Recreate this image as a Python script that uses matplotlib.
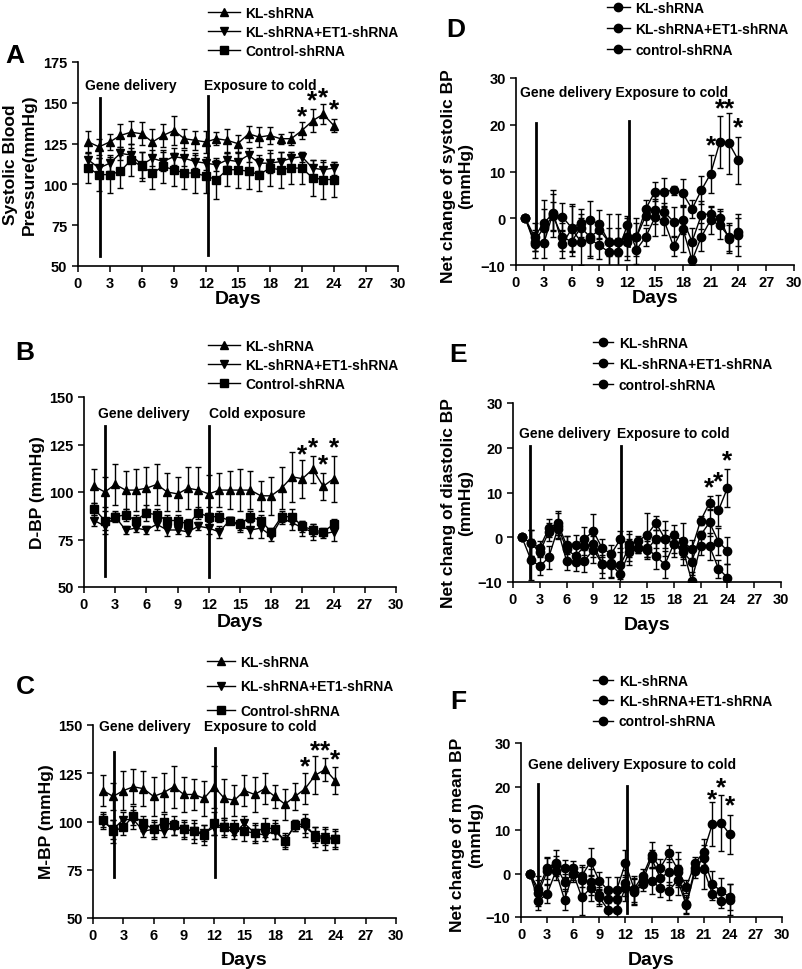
import matplotlib
matplotlib.use("Agg")
import matplotlib.pyplot as plt
from matplotlib.lines import Line2D

plt.rcParams['font.family'] = ['Liberation Sans', 'DejaVu Sans']
plt.rcParams['font.weight'] = 'bold'
plt.rcParams['axes.labelweight'] = 'bold'

days = list(range(1, 25))
ticks_x = [0, 3, 6, 9, 12, 15, 18, 21, 24, 27, 30]

labels_abc = ["KL-shRNA", "KL-shRNA+ET1-shRNA", "Control-shRNA"]
labels_def = ["KL-shRNA", "KL-shRNA+ET1-shRNA", "control-shRNA"]

# ---- A: systolic BP
A_kl = [126, 123, 126, 130, 132, 131, 126, 130, 133, 128, 127, 126, 128, 127, 125, 131, 129, 130, 128, 128, 133, 139, 143, 136]
A_kl_err = [7, 5, 5, 7, 7, 7, 8, 7, 9, 6, 6, 7, 4, 7, 5, 5, 6, 5, 3, 4, 5, 7, 6, 4]
A_et = [115, 110, 113, 119, 118, 112, 116, 114, 117, 116, 114, 113, 112, 115, 114, 118, 113, 113, 114, 116, 117, 110, 109, 110]
A_et_err = [5, 6, 5, 4, 4, 8, 5, 6, 5, 5, 4, 4, 4, 4, 5, 4, 5, 6, 6, 4, 3, 5, 5, 4]
A_ct = [110, 106, 106, 108, 115, 111, 107, 111, 109, 107, 107, 105, 103, 109, 109, 108, 106, 110, 109, 110, 110, 104, 103, 103]
A_ct_err = [9, 10, 11, 10, 10, 9, 10, 10, 10, 10, 12, 10, 12, 10, 11, 11, 10, 11, 11, 10, 10, 11, 12, 11]

# ---- B: diastolic BP
B_kl = [103, 100, 104, 101, 101, 102, 104, 100, 99, 102, 101, 99, 101, 101, 101, 101, 98, 98, 102, 108, 107, 112, 103, 107]
B_kl_err = [9, 8, 11, 10, 11, 11, 11, 10, 9, 11, 12, 10, 9, 10, 11, 10, 8, 10, 11, 13, 10, 7, 7, 12]
B_et = [85, 82, 87, 80, 81, 80, 83, 80, 80, 79, 82, 81, 79, 85, 82, 80, 81, 77, 86, 84, 81, 79, 78, 79]
B_et_err = [3, 4, 2, 2, 2, 2, 3, 3, 2, 2, 2, 3, 3, 2, 3, 4, 5, 3, 3, 4, 4, 4, 2, 5]
B_ct = [91, 85, 87, 88, 85, 89, 88, 85, 85, 83, 89, 87, 87, 85, 83, 87, 85, 79, 87, 87, 82, 80, 79, 83]
B_ct_err = [3, 5, 3, 3, 3, 4, 3, 3, 3, 3, 3, 5, 3, 2, 3, 3, 3, 2, 3, 4, 3, 3, 2, 3]

# ---- C: mean BP
C_kl = [116, 113, 116, 118, 117, 113, 115, 118, 114, 114, 112, 118, 112, 111, 116, 114, 117, 113, 109, 113, 117, 124, 127, 121]
C_kl_err = [8, 7, 10, 9, 9, 10, 10, 11, 9, 8, 9, 11, 10, 8, 8, 9, 8, 6, 8, 7, 8, 10, 6, 7]
C_et = [100, 96, 101, 101, 95, 96, 95, 97, 96, 95, 94, 97, 97, 94, 99, 94, 93, 95, 90, 98, 97, 93, 92, 91]
C_et_err = [4, 5, 4, 5, 3, 4, 3, 4, 4, 4, 4, 4, 4, 3, 4, 4, 3, 4, 3, 3, 5, 4, 4, 4]
C_ct = [101, 95, 97, 103, 99, 96, 100, 98, 96, 95, 93, 99, 97, 97, 95, 94, 97, 96, 90, 98, 99, 92, 91, 91]
C_ct_err = [4, 6, 4, 5, 4, 5, 4, 5, 5, 6, 5, 6, 5, 4, 5, 5, 5, 5, 4, 3, 5, 5, 6, 5]

# ---- D: net change systolic
D_kl = [0, -4, -1, 1, 0.3, -2, -1, -0.3, -1.3, -5, -5, -4, -4, 2, 5.7, 5.7, 6, 5.3, 2, 6, 9.5, 16.3, 16, 12.4]
D_kl_err = [0, 3, 5, 5, 3, 5, 3, 4, 3, 6, 6, 4, 4, 2, 2, 3, 1, 3, 2, 3, 4, 5.5, 6.5, 5]
D_et = [0, -5, -2, 0.5, -4, -5, -2, -4, -2.5, -5, -5, -5, -4, 0.5, 1.7, 1.3, -0.7, -0.3, -5, 0.7, 1, 0, -4.5, -3]
D_et_err = [0, 2, 4, 3, 3, 3, 3, 4, 2, 3, 3, 4, 3, 2, 3, 2, 3, 3, 3, 3, 1.5, 2, 3, 3]
D_ct = [0, -5.5, -5.4, 1.2, -5.5, -2.3, -5, -4.5, -5.8, -7.2, -7.2, -1.5, -6.7, -4, 0.2, -0.6, -6, -2.2, -9, -4, -0.4, -1.5, -4, -3.6]
D_ct_err = [0, 3, 3, 4, 3, 5, 5, 4, 3, 3, 3, 2, 3, 2, 4, 3, 2, 5, 1, 3, 3, 3, 3, 4.5]

# ---- E: net change diastolic
E_kl = [0, -1.3, -2.3, 2, 3.2, -1.8, -1.8, -0.3, 1.3, -2.5, -3.7, -0.5, -1.5, -0.8, 0.5, 3.2, -0.3, 0.5, -0.8, -2.7, 3.7, 7.7, 6, 11]
E_kl_err = [0, 3, 1.5, 2, 2.7, 2, 2.2, 2.5, 4, 2, 2, 2, 3, 1, 5, 1.5, 4, 2.2, 4, 2, 1, 1.5, 3.5, 4.2]
E_et = [0, -1.3, -3.3, 1.2, 2.5, -2.7, -4.2, -2, -1.5, -6, -5.8, -6.3, -2.2, -2.5, -2.8, -0.3, -0.3, -1.5, -3.2, -5.5, 0.5, 3.3, -1, -3]
E_et_err = [0, 3, 1, 2, 3, 3, 2, 2, 3, 2, 3, 3, 3, 1, 2, 2, 2, 3, 3, 3, 1, 3, 3, 3]
E_ct = [0, -5, -6.5, -4.5, 1.8, -5.3, -5.5, -5.2, -2.8, -6, -6.2, -8.2, -3.3, -2.5, -2.5, -4.2, -6.1, -1.5, -2.5, -9.7, -2, -2, -7, -9]
E_ct_err = [0, 4.5, 2, 2.5, 2, 2, 2, 2.5, 3, 3, 3, 2, 3, 1, 2, 3, 3, 2, 2, 2, 2, 3, 2, 3]

# ---- F: net change mean
F_kl = [0, -3.5, 1.2, 2.5, 1.2, 1.3, -0.5, 2.7, -1.7, -3.8, -3.7, 2.3, -3.5, -0.5, 4.2, 1.3, 4.6, 1, -3, 2.3, 5, 11.4, 11.6, 9]
F_kl_err = [0, 3, 2.5, 3, 2, 1.5, 2.5, 3.2, 2, 3, 3, 3, 3, 1.5, 3, 2, 2, 4, 1.5, 1.5, 3, 5, 6.5, 4.5]
F_et = [0, -4.5, 0.5, 2, -2, 0, -1.5, -2, -5, -5.8, -5.8, -2.2, -4, -1.5, 3.5, -1, 0.3, 0.3, -7, 1.3, 3.5, -2.5, -4, -5.5]
F_et_err = [0, 3, 3, 2, 2, 1.5, 3, 3, 2, 2, 2, 3, 3, 1.5, 2, 2, 3, 3, 2, 1.5, 3, 3, 3, 3]
F_ct = [0, -6.3, -4.7, 0.5, -6, 0, -5.5, -3.3, -5.5, -8.3, -8.3, -3.3, -4.3, -2.5, -1.7, -3.3, -4, -1.5, -7.3, 0.5, 1, -4.7, -6.4, -6]
F_ct_err = [0, 2, 2, 2, 2.5, 2, 4, 3, 2, 2, 2, 3, 3, 1.5, 3, 2, 2, 3.5, 2, 1.5, 4.5, 1.5, 1.5, 3.5]

# event lines (day, y bottom, y top), notes and significance stars
A_vlines = [(2.1, 56, 153), (12.25, 57, 154)]
B_vlines = [(2.0, 56, 135), (12.05, 55.5, 135)]
C_vlines = [(2.1, 71, 136), (12.1, 71, 138)]
D_vlines = [(2.15, -4, 20.4), (12.15, -6, 20.7)]
E_vlines = [(1.95, -9, 20.3), (12.07, -6.4, 20.3)]
F_vlines = [(1.95, -6.5, 20.6), (12.15, -9, 20.2)]

A_notes = [(0.7, 160.7, "Gene delivery"), (11.8, 160.7, "Exposure to cold")]
B_notes = [(1.35, 141.8, "Gene delivery"), (12.05, 141.8, "Cold exposure")]
C_notes = [(0.6, 149.3, "Gene delivery"), (11.0, 149.3, "Exposure to cold")]
D_notes = [(0.45, 26.9, "Gene delivery Exposure to cold")]
E_notes = [(0.67, 23.2, "Gene delivery"), (11.6, 23.2, "Exposure to cold")]
F_notes = [(0.85, 25.2, "Gene delivery Exposure to cold")]

A_stars = [(21, 141.5), (22, 151.5), (23, 153.5), (24, 146)]
B_stars = [(21, 120), (22, 123.5), (23, 114.5), (24, 123.5)]
C_stars = [(21, 128.5), (22, 137), (23, 137), (24, 132.3)]
D_stars = [(21, 15.5), (22, 23.6), (23, 23.6), (24, 19.4)]
E_stars = [(22, 11.2), (23, 12.6), (24, 17.1)]
F_stars = [(22, 17.1), (23, 19.8), (24, 15.6)]

fig = plt.figure(figsize=(8.03, 9.70), dpi=100)


def panel(rect, series, markers, labels, ylim, yticks, ylabel, letter, letter_xy,
          vlines, notes, stars, leg_xy, leg_space, handle_len, xlabelpad, ylabel_xy):
    ax = fig.add_axes(rect)
    handles = []
    for (y, e), m, lab in zip(series, markers, labels):
        ax.errorbar(days, y, yerr=e, color='black', marker=m, ms=6, lw=1.0,
                    elinewidth=1.0, capsize=2.5, capthick=1.0)
        handles.append(Line2D([], [], color='black', marker=m, ms=6, lw=1.0, label=lab))
    for x, y0, y1 in vlines:
        ax.plot([x, x], [y0, y1], color='black', lw=2.0)
    for x, y, s in notes:
        ax.text(x, y, s, fontsize=10, ha='left', va='center')
    for x, y in stars:
        ax.text(x, y, '*', fontsize=19, ha='center', va='center')
    ax.set_xlim(0, 30)
    ax.set_ylim(*ylim)
    ax.set_xticks(ticks_x)
    ax.set_yticks(yticks)
    ax.tick_params(direction='out', length=4, width=1.1, labelsize=10.5)
    for s in ['top', 'right']:
        ax.spines[s].set_visible(False)
    for s in ['left', 'bottom']:
        ax.spines[s].set_linewidth(1.2)
    ax.set_xlabel('Days', fontsize=14, labelpad=xlabelpad)
    fig.text(ylabel_xy[0] / 803, 1 - ylabel_xy[1] / 970, ylabel, rotation=90,
             ha='center', va='center', fontsize=12.5, linespacing=1.25,
             multialignment='center')
    fig.text(letter_xy[0] / 803, 1 - letter_xy[1] / 970, letter, fontsize=19,
             ha='center', va='center')
    ax.legend(handles=handles, loc='upper left',
              bbox_to_anchor=(leg_xy[0] / 803, 1 - leg_xy[1] / 970),
              bbox_transform=fig.transFigure, frameon=False, borderpad=0,
              fontsize=10, labelspacing=leg_space, handlelength=handle_len,
              handletextpad=0.4, borderaxespad=0)
    return ax


def fr(l, r, t, b):
    return [l / 803, 1 - b / 970, (r - l) / 803, (b - t) / 970]


panel(fr(77.7, 398, 63, 267), [(A_kl, A_kl_err), (A_et, A_et_err), (A_ct, A_ct_err)],
      ['^', 'v', 's'], labels_abc, (50, 175), [50, 75, 100, 125, 150, 175],
      "Systolic Blood\nPressure(mmHg)", "A", (15, 56), A_vlines, A_notes, A_stars,
      (208, 7), 0.35, 2.3, 0, (20, 165))

panel(fr(84, 396, 398, 588), [(B_kl, B_kl_err), (B_et, B_et_err), (B_ct, B_ct_err)],
      ['^', 'v', 's'], labels_abc, (50, 150), [50, 75, 100, 125, 150],
      "D-BP (mmHg)", "B", (25, 353), B_vlines, B_notes, B_stars,
      (208, 340), 0.35, 2.3, 1, (38, 493))

panel(fr(93, 396, 726, 919), [(C_kl, C_kl_err), (C_et, C_et_err), (C_ct, C_ct_err)],
      ['^', 'v', 's'], labels_abc, (50, 150), [50, 75, 100, 125, 150],
      "M-BP (mmHg)", "C", (25, 687), C_vlines, C_notes, C_stars,
      (207, 656), 0.75, 2.0, 6, (47, 822))

panel(fr(516, 794, 79, 266), [(D_kl, D_kl_err), (D_et, D_et_err), (D_ct, D_ct_err)],
      ['o', 'o', 'o'], labels_def, (-10, 30), [-10, 0, 10, 20, 30],
      "Net change of systolic BP\n(mmHg)", "D", (456, 30), D_vlines, D_notes, D_stars,
      (607, 2), 0.5, 1.65, 0, (457, 176))

panel(fr(513, 781, 404, 583), [(E_kl, E_kl_err), (E_et, E_et_err), (E_ct, E_ct_err)],
      ['o', 'o', 'o'], labels_def, (-10, 30), [-10, 0, 10, 20, 30],
      "Net chang of diastolic BP\n(mmHg)", "E", (458, 355), E_vlines, E_notes, E_stars,
      (593, 337), 0.5, 1.45, 7, (457, 503))

panel(fr(521, 782, 744, 918), [(F_kl, F_kl_err), (F_et, F_et_err), (F_ct, F_ct_err)],
      ['o', 'o', 'o'], labels_def, (-10, 30), [-10, 0, 10, 20, 30],
      "Net change of mean BP\n(mmHg)", "F", (458, 702), F_vlines, F_notes, F_stars,
      (593, 675), 0.45, 1.45, 7, (467, 835))

fig.savefig("out.png", dpi=100)
